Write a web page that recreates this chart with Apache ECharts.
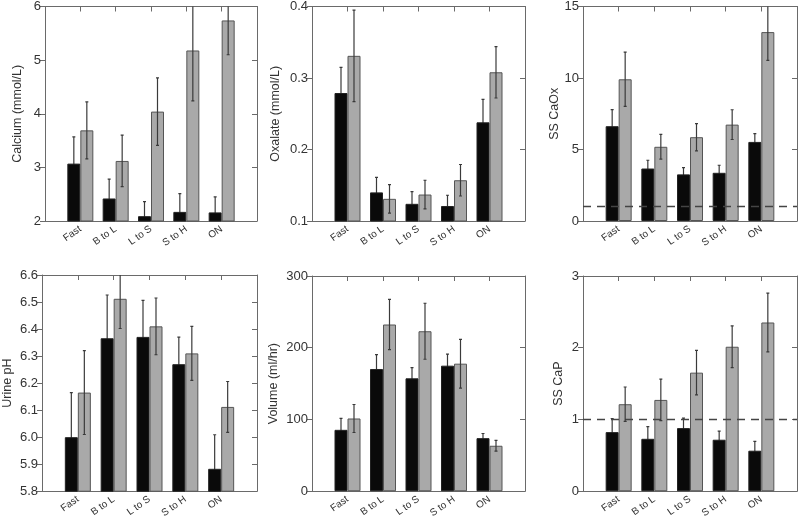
<!DOCTYPE html>
<html><head><meta charset="utf-8">
<script src="https://cdn.jsdelivr.net/npm/echarts@6/dist/echarts.min.js"></script>
<style>html,body{margin:0;padding:0;background:#fff}#c{width:800px;height:520px}</style>
</head><body><div id="c"></div>
<script>
const categories = ['Fast', 'B to L', 'L to S', 'S to H', 'ON'];

const calciumBlack = [3.07, 2.42, 2.09, 2.17, 2.16];
const calciumBlackErr = [0.50, 0.36, 0.27, 0.34, 0.29];
const calciumGray = [3.69, 3.12, 4.04, 5.18, 5.74];
const calciumGrayErr = [0.53, 0.48, 0.63, 0.94, 0.64];

const oxalateBlack = [0.279, 0.140, 0.124, 0.121, 0.238];
const oxalateBlackErr = [0.036, 0.021, 0.017, 0.015, 0.032];
const oxalateGray = [0.331, 0.131, 0.137, 0.157, 0.308];
const oxalateGrayErr = [0.064, 0.020, 0.020, 0.022, 0.036];

const caoxBlack = [6.63, 3.67, 3.26, 3.37, 5.53];
const caoxBlackErr = [1.16, 0.58, 0.47, 0.53, 0.58];
const caoxGray = [9.91, 5.19, 5.86, 6.74, 13.21];
const caoxGrayErr = [1.90, 0.87, 0.95, 1.04, 1.98];

const phBlack = [6.00, 6.366, 6.371, 6.27, 5.883];
const phBlackErr = [0.165, 0.16, 0.135, 0.10, 0.126];
const phGray = [6.165, 6.512, 6.41, 6.31, 6.112];
const phGrayErr = [0.155, 0.11, 0.105, 0.10, 0.094];

const volumeBlack = [85.6, 170.4, 157.4, 175, 74];
const volumeBlackErr = [16, 20, 15, 16, 6.5];
const volumeGray = [101.4, 232.4, 223, 177.8, 63.4];
const volumeGrayErr = [19.5, 35, 39, 34, 7.6];

const capBlack = [0.824, 0.731, 0.88, 0.718, 0.565];
const capBlackErr = [0.19, 0.17, 0.14, 0.12, 0.13];
const capGray = [1.213, 1.273, 1.653, 2.014, 2.352];
const capGrayErr = [0.24, 0.29, 0.31, 0.29, 0.41];

const panels = [
  {name: 'Calcium (mmol/L)', min: 2, max: 6, interval: 1, dec: 0, black: calciumBlack, blackErr: calciumBlackErr, gray: calciumGray, grayErr: calciumGrayErr, ref: null},
  {name: 'Oxalate (mmol/L)', min: 0.1, max: 0.4, split: 3, dec: 1, black: oxalateBlack, blackErr: oxalateBlackErr, gray: oxalateGray, grayErr: oxalateGrayErr, ref: null},
  {name: 'SS CaOx', min: 0, max: 15, interval: 5, dec: 0, black: caoxBlack, blackErr: caoxBlackErr, gray: caoxGray, grayErr: caoxGrayErr, ref: 1},
  {name: 'Urine pH', min: 5.8, max: 6.6, split: 8, dec: 1, black: phBlack, blackErr: phBlackErr, gray: phGray, grayErr: phGrayErr, ref: null},
  {name: 'Volume (ml/hr)', min: 0, max: 300, interval: 100, dec: 0, black: volumeBlack, blackErr: volumeBlackErr, gray: volumeGray, grayErr: volumeGrayErr, ref: null},
  {name: 'SS CaP', min: 0, max: 3, interval: 1, dec: 0, black: capBlack, blackErr: capBlackErr, gray: capGray, grayErr: capGrayErr, ref: 1}
];

const layout = [
  [45, 5, 212, 216, 21],
  [312, 6, 213, 215, 30],
  [583, 5, 214, 216, 21],
  [42, 275, 215, 217, 28],
  [312, 276, 213, 216, 32],
  [583, 276, 214, 216, 18]
];

const FONT = '"Liberation Sans", Arial, sans-serif';
const TXT = '#333', AX = '#6a6a6a', BW = 13;
const axisCats = [''].concat(categories, ['']);
const grid = [], xAxis = [], yAxis = [], series = [];

function errSeries(gi, vals, errs, offset, z) {
  return {
    type: 'custom', xAxisIndex: gi * 2, yAxisIndex: gi * 2, clip: true, z: z,
    data: vals.map((v, i) => [i + 1, v, errs[i]]),
    renderItem: function (params, api) {
      const x = api.value(0), v = api.value(1), e = api.value(2);
      const hi = api.coord([x, v + e]);
      const lo = api.coord([x, v - e]);
      const cx = hi[0] + offset;
      return {type: 'polyline', shape: {points: [
        [cx - 1.5, hi[1]], [cx + 1.5, hi[1]], [cx, hi[1]], [cx, lo[1]], [cx - 1.5, lo[1]], [cx + 1.5, lo[1]]
      ]}, style: {stroke: '#3a3a3a', lineWidth: 1.2, fill: null}};
    }
  };
}

for (let gi = 0; gi < panels.length; gi++) {
  const p = panels[gi];
  const L = layout[gi];
  grid.push({left: L[0], top: L[1], width: L[2], height: L[3]});
  xAxis.push({type: 'category', gridIndex: gi, data: axisCats, boundaryGap: false, position: 'bottom',
    axisLine: {onZero: false, lineStyle: {color: AX, width: 1}}, axisTick: {show: false},
    axisLabel: {interval: 0, rotate: 35, fontSize: 10, color: TXT, fontFamily: FONT, margin: 7}});
  xAxis.push({type: 'category', gridIndex: gi, data: axisCats, boundaryGap: false, position: 'top',
    axisLine: {onZero: false, lineStyle: {color: AX, width: 1}},
    axisTick: {show: true, inside: true, length: 5, interval: 0, lineStyle: {color: AX}},
    axisLabel: {show: false}});
  const dec = p.dec;
  const yl = {type: 'value', gridIndex: gi, min: p.min, max: p.max, position: 'left',
    name: p.name, nameLocation: 'middle', nameGap: L[4],
    nameTextStyle: {fontSize: 12.5, color: TXT, fontFamily: FONT},
    axisLine: {show: true, onZero: false, lineStyle: {color: AX, width: 1}},
    axisTick: {show: true, inside: false, length: 5, lineStyle: {color: AX}},
    axisLabel: {fontSize: 13, color: TXT, fontFamily: FONT, margin: 4, formatter: v => v.toFixed(dec)},
    splitLine: {show: false}};
  const yr = {type: 'value', gridIndex: gi, min: p.min, max: p.max, position: 'right',
    axisLine: {show: true, onZero: false, lineStyle: {color: AX, width: 1}},
    axisTick: {show: true, inside: true, length: 5, lineStyle: {color: AX}},
    axisLabel: {show: false}, splitLine: {show: false}};
  if (p.interval) { yl.interval = p.interval; yr.interval = p.interval; }
  else { yl.splitNumber = p.split; yr.splitNumber = p.split; }
  yAxis.push(yl, yr);
  const bb = {type: 'bar', xAxisIndex: gi * 2, yAxisIndex: gi * 2, barWidth: BW, barGap: '0%', z: 2,
    data: p.black.map((v, i) => [i + 1, v]),
    itemStyle: {color: '#0a0a0a', borderColor: '#222', borderWidth: 1}, emphasis: {disabled: true}};
  const gb = {type: 'bar', xAxisIndex: gi * 2, yAxisIndex: gi * 2, barWidth: BW, barGap: '0%', z: 2,
    data: p.gray.map((v, i) => [i + 1, v]),
    itemStyle: {color: '#a9a9a9', borderColor: '#555', borderWidth: 1}, emphasis: {disabled: true}};
  if (p.ref !== null) {
    gb.markLine = {silent: true, symbol: 'none', label: {show: false},
      lineStyle: {color: '#444', width: 1.3, type: [8, 6]}, data: [{yAxis: p.ref}]};
  }
  series.push(bb, gb);
  series.push(errSeries(gi, p.black, p.blackErr, -BW / 2, 1));
  series.push(errSeries(gi, p.gray, p.grayErr, BW / 2, 5));
}

const chart = echarts.init(document.getElementById('c'), null, {renderer: 'canvas'});
chart.setOption({animation: false, backgroundColor: '#fff', grid, xAxis, yAxis, series});
</script></body></html>
